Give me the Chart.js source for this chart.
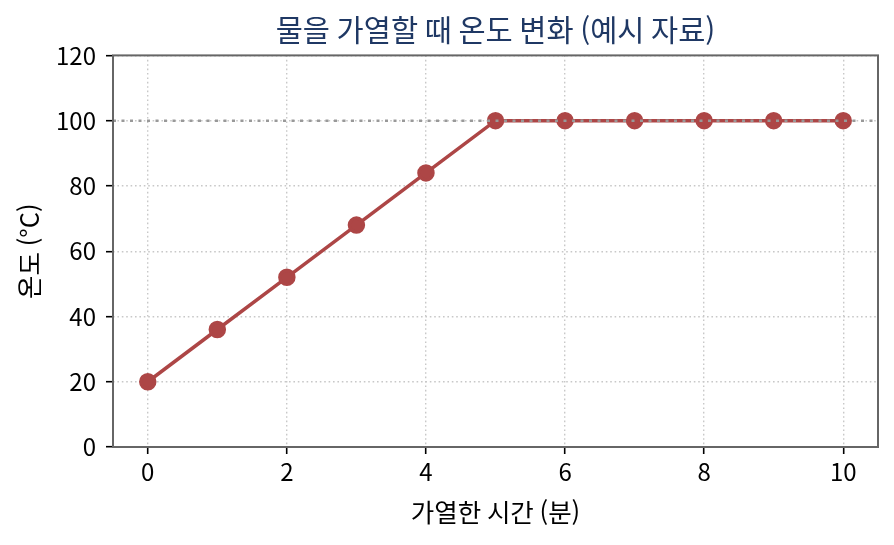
<!DOCTYPE html>
<html lang="ko">
<head>
    <meta charset="UTF-8" />
    <title>물을 가열할 때 온도 변화</title>
    <script src="https://cdn.jsdelivr.net/npm/chart.js"></script>
    <style>
        html, body { margin: 0; padding: 0; background: #fff; }
        canvas { display: block; }
    </style>
</head>
<body>
    <canvas id="tempChart" width="894" height="545"></canvas>
    <script>
        // data
        var minutes = [0, 1, 2, 3, 4, 5, 6, 7, 8, 9, 10];
        var temps = [20, 36, 52, 68, 84, 100, 100, 100, 100, 100, 100];
        var boilPoint = 100;
        var xRange = [-0.5, 10.5];
        var xTicks = [0, 2, 4, 6, 8, 10];

        var FONT = "'Noto Sans CJK KR', 'Noto Sans', sans-serif";

        var points = minutes.map(function (m, i) { return { x: m, y: temps[i] }; });

        // frame round the plot area
        var framePlugin = {
            id: 'frame',
            afterDraw: function (chart) {
                var a = chart.chartArea, c = chart.ctx;
                c.save();
                c.strokeStyle = '#666';
                c.lineWidth = 2;
                c.strokeRect(a.left, a.top, a.right - a.left, a.bottom - a.top);
                c.restore();
            }
        };

        var gridOpts = {
            color: '#c8c8c8',
            lineWidth: 1.4,
            tickLength: 7,
            tickColor: '#000',
            tickWidth: 1.6,
            tickBorderDash: []
        };

        new Chart(document.getElementById('tempChart').getContext('2d'), {
            type: 'line',
            data: {
                datasets: [{
                    label: '끓는점',
                    data: [{ x: xRange[0], y: boilPoint }, { x: xRange[1], y: boilPoint }],
                    borderColor: '#999',
                    borderWidth: 2.5,
                    borderDash: [3, 5.5],
                    pointRadius: 0,
                    order: 0
                }, {
                    label: '온도',
                    data: points,
                    borderColor: '#ad4646',
                    backgroundColor: '#ad4646',
                    borderWidth: 3.5,
                    pointRadius: 7,
                    pointHoverRadius: 7,
                    order: 1
                }]
            },
            options: {
                responsive: false,
                animation: false,
                layout: { padding: { left: 0, right: 16, top: 0, bottom: 0 } },
                plugins: {
                    legend: { display: false },
                    tooltip: { enabled: false },
                    title: {
                        display: true,
                        fullSize: false,
                        text: '물을 가열할 때 온도 변화 (예시 자료)',
                        color: '#1f3864',
                        font: { family: FONT, size: 29.5, weight: 'normal', lineHeight: 1.2 },
                        padding: { top: 12, bottom: 8 }
                    }
                },
                scales: {
                    x: {
                        type: 'linear',
                        min: xRange[0],
                        max: xRange[1],
                        afterFit: function (s) { s.height = 98; },
                        afterBuildTicks: function (s) {
                            s.ticks = xTicks.map(function (v) { return { value: v }; });
                        },
                        ticks: { color: '#000', font: { family: FONT, size: 24 }, padding: 3 },
                        grid: gridOpts,
                        border: { display: false, dash: [1.6, 2.8] },
                        title: {
                            display: true,
                            text: '가열한 시간 (분)',
                            color: '#000',
                            font: { family: FONT, size: 25.5, lineHeight: 1.2 },
                            padding: { top: 0, bottom: 17 }
                        }
                    },
                    y: {
                        min: 0,
                        max: 120,
                        afterFit: function (s) { s.width = 113; },
                        ticks: { stepSize: 20, color: '#000', font: { family: FONT, size: 24 }, padding: 10 },
                        grid: gridOpts,
                        border: { display: false, dash: [1.6, 2.8] },
                        title: {
                            display: true,
                            text: '온도 (°C)',
                            color: '#000',
                            font: { family: FONT, size: 25.5, lineHeight: 1.2 },
                            padding: { top: 14, bottom: 0 }
                        }
                    }
                }
            },
            plugins: [framePlugin]
        });
    </script>
</body>
</html>
